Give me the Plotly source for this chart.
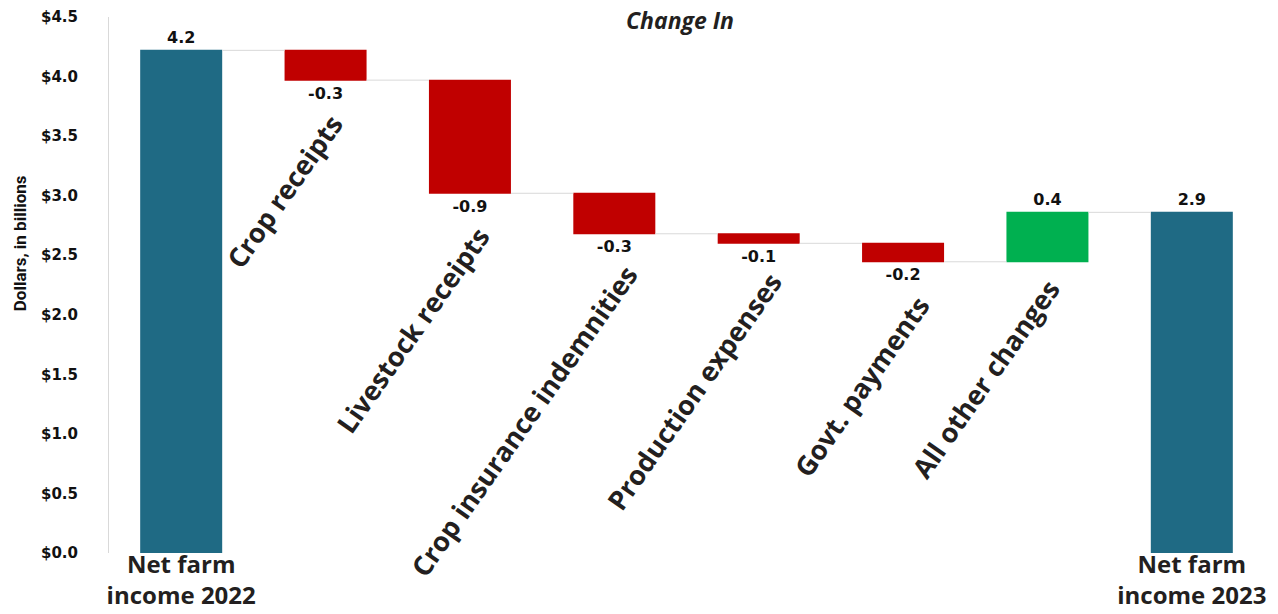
import plotly.graph_objects as go

# ---- data ----
categories = ["Net farm income 2022", "Crop receipts", "Livestock receipts",
              "Crop insurance indemnities", "Production expenses",
              "Govt. payments", "All other changes", "Net farm income 2023"]
measures = ["absolute", "relative", "relative", "relative", "relative",
            "relative", "relative", "total"]
values = [4.22, -0.25, -0.95, -0.34, -0.08, -0.155, 0.415, 0]
value_labels = ["4.2", "-0.3", "-0.9", "-0.3", "-0.1", "-0.2", "0.4", "2.9"]
axis_tick_labels = {0: "Net farm<br>income 2022", 7: "Net farm<br>income 2023"}
rotated_labels = ["Crop receipts", "Livestock receipts", "Crop insurance indemnities",
                  "Production expenses", "Govt. payments", "All other changes"]

TEAL = "#1F6A84"
RED = "#C00000"
GREEN = "#00B050"
GREY = "#D9D9D9"
num_font = "DejaVu Sans"
cat_font = "Open Sans"

fig = go.Figure(go.Waterfall(
    x=list(range(len(categories))),
    measure=measures,
    y=values,
    text=value_labels,
    textposition="outside",
    textfont=dict(family=num_font, size=16, color="#111111", weight="bold"),
    cliponaxis=False,
    increasing=dict(marker=dict(color=GREEN)),
    decreasing=dict(marker=dict(color=RED)),
    totals=dict(marker=dict(color=TEAL)),
    connector=dict(line=dict(color=GREY, width=1)),
    hovertext=categories,
))

# rotated category labels (centre positions in axis units)
label_pos = [(0.719, 3.04), (1.599, 1.872), (2.368, 1.108),
             (3.552, 1.352), (4.709, 1.402), (5.574, 1.461)]
annotations = []
for txt, (lx, ly) in zip(rotated_labels, label_pos):
    annotations.append(dict(
        x=lx, y=ly, xref="x", yref="y", text=txt, showarrow=False,
        textangle=-55, xanchor="center", yanchor="middle",
        font=dict(family=cat_font, size=27, color="#231F20", weight="bold")))

annotations.append(dict(
    x=-0.077, y=0.578, xref="paper", yref="paper", text="Dollars, in billions",
    showarrow=False, textangle=-90, xanchor="center", yanchor="middle",
    font=dict(family="Liberation Sans Narrow, Roboto", size=17, color="#111111",
              weight="bold")))
annotations.append(dict(
    x=0.494, y=0.994, xref="paper", yref="paper", text="<i>Change In</i>",
    showarrow=False, xanchor="center", yanchor="middle",
    font=dict(family=cat_font, size=23, color="#231F20", weight="bold")))

fig.update_layout(
    width=1278, height=614,
    margin=dict(l=109, r=14, t=17, b=61),
    paper_bgcolor="white", plot_bgcolor="white",
    showlegend=False,
    waterfallgap=0.432,
    annotations=annotations,
    xaxis=dict(
        range=[-0.5, 7.5],
        tickmode="array",
        tickvals=list(axis_tick_labels.keys()),
        ticktext=list(axis_tick_labels.values()),
        tickfont=dict(family=cat_font, size=24, color="#231F20", weight="bold"),
        showgrid=False, zeroline=False, showline=False, ticks="",
        automargin=False, ticklabelstandoff=-5,
    ),
    yaxis=dict(
        range=[0, 4.5], dtick=0.5, tickformat=".1f", tickprefix="$",
        tickfont=dict(family=num_font, size=15, color="#111111", weight="bold"),
        showgrid=False, zeroline=False, showline=True, linecolor=GREY,
        linewidth=1, ticks="", ticklabelstandoff=27, automargin=False,
    ),
)

fig.write_html("out.html")
